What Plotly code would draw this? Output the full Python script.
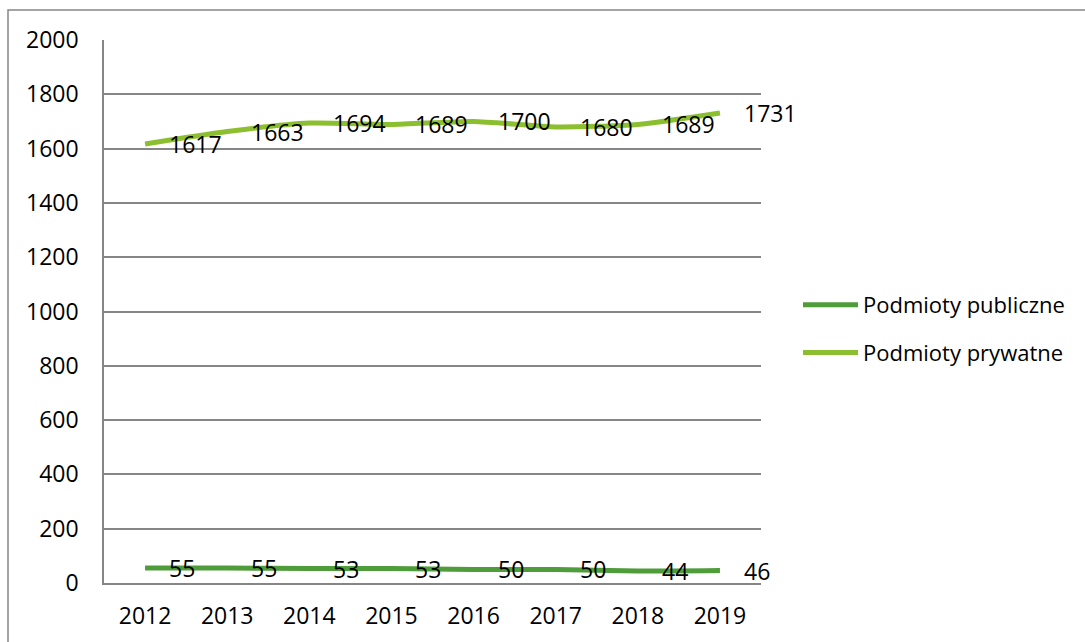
import plotly.graph_objects as go

years = ["2012", "2013", "2014", "2015", "2016", "2017", "2018", "2019"]
publiczne = [55, 55, 53, 53, 50, 50, 44, 46]
prywatne = [1617, 1663, 1694, 1689, 1700, 1680, 1689, 1731]
series_names = ["Podmioty publiczne", "Podmioty prywatne"]
y_ticks = [0, 200, 400, 600, 800, 1000, 1200, 1400, 1600, 1800, 2000]

FONT = "Open Sans"
colors = ["#4E9C3A", "#8CBF30"]

W, H = 1085, 642
L, R, T, B = 104, 1085 - 761, 40, 642 - 583
pw, ph = W - L - R, H - T - B

fig = go.Figure()
for i, (name, vals) in enumerate(zip(series_names, [publiczne, prywatne])):
    fig.add_trace(go.Scatter(
        x=list(range(len(years))), y=vals, mode="lines", name=name,
        line=dict(color=colors[i], width=5, shape="spline", smoothing=0.6),
        legendgroup=f"g{i}",
    ))
    for xi, v in enumerate(vals):
        fig.add_annotation(x=xi, y=v, text=str(v), showarrow=False,
                           xanchor="left", yanchor="middle", xshift=22,
                           font=dict(family=FONT, size=23, color="#000000"))

# outer chart border
fig.add_shape(type="rect", xref="paper", yref="paper",
              x0=(8 - L) / pw, x1=(W + 20 - L) / pw,
              y0=-(H + 20 - T - ph) / ph, y1=1 + (T - 10) / ph,
              line=dict(color="#868686", width=1.5), fillcolor="rgba(0,0,0,0)")

fig.update_layout(
    width=W, height=H,
    margin=dict(l=L, r=R, t=T, b=B),
    paper_bgcolor="white", plot_bgcolor="white",
    font=dict(family=FONT, size=23, color="#000000"),
    showlegend=True,
    legend=dict(x=(798 - L) / pw, y=(583 - 284) / ph, xanchor="left", yanchor="top",
                font=dict(family=FONT, size=22, color="#000000"),
                itemwidth=55, tracegroupgap=16, traceorder="grouped",
                bgcolor="rgba(0,0,0,0)"),
    xaxis=dict(range=[-0.5, 7.5], tickmode="array",
               tickvals=list(range(len(years))), ticktext=years,
               showgrid=False, zeroline=False, showline=True,
               linecolor="#868686", linewidth=1.5, ticks="",
               ticklabelstandoff=12, fixedrange=True),
    yaxis=dict(range=[0, 2000], tickmode="array", tickvals=y_ticks,
               ticktext=[str(t) for t in y_ticks],
               showgrid=True, gridcolor="#868686", gridwidth=1.5,
               zeroline=False, showline=True, linecolor="#868686", linewidth=1.5,
               ticks="", ticklabelstandoff=19, fixedrange=True),
)

fig.write_html("out.html", config={"displayModeBar": False},
               post_script="document.body.style.margin='0';document.body.style.overflow='hidden';")
